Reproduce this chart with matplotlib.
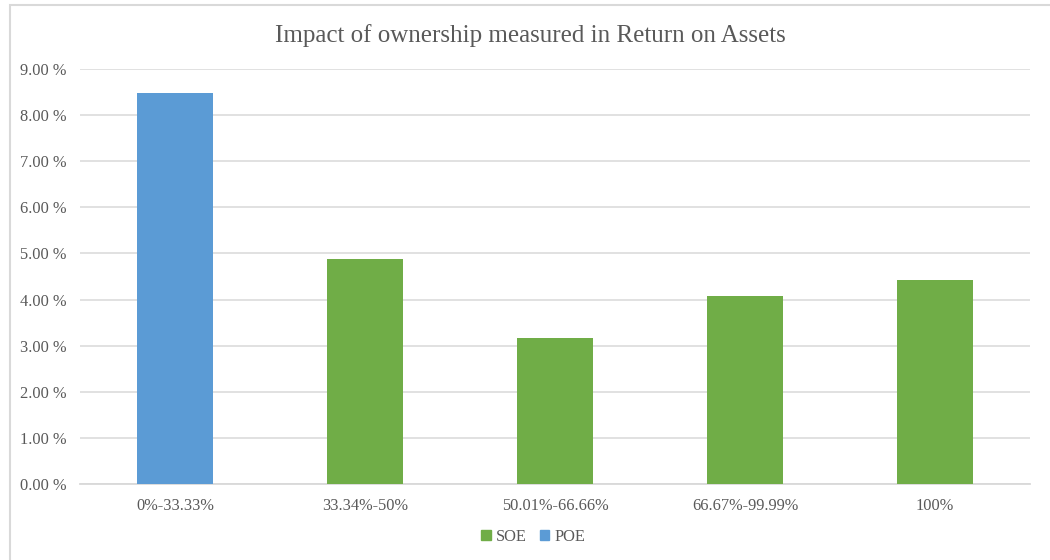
import matplotlib.pyplot as plt
from matplotlib.patches import Rectangle, Patch

categories = ['0%-33.33%', '33.34%-50%', '50.01%-66.66%', '66.67%-99.99%', '100%']
roa = [8.47, 4.88, 3.17, 4.08, 4.43]
owner = ['POE', 'SOE', 'SOE', 'SOE', 'SOE']

colors = {'SOE': '#70AD47', 'POE': '#5B9BD5'}
text_color = '#595959'
grid_color = '#d9d9d9'

plt.rcParams['font.family'] = ['Liberation Serif', 'DejaVu Serif']

fig = plt.figure(figsize=(10.5, 5.6), dpi=100)
ax = fig.add_axes([80 / 1050, 1 - 484 / 560, 950 / 1050, 415 / 560])

x = range(len(categories))
ax.bar(x, roa, width=0.4, color=[colors[o] for o in owner], zorder=3)

ax.set_xlim(-0.5, len(categories) - 0.5)
ax.set_ylim(0, 9)
ax.set_yticks(range(0, 10))
ax.set_yticklabels(['{:.2f} %'.format(v) for v in range(0, 10)])
ax.set_xticks(list(x))
ax.set_xticklabels(categories)

ax.grid(axis='y', color=grid_color, linewidth=1.1, zorder=0)
for side in ['top', 'right', 'left']:
    ax.spines[side].set_visible(False)
ax.spines['bottom'].set_color(grid_color)
ax.spines['bottom'].set_linewidth(1.3)
ax.tick_params(axis='both', length=0, colors=text_color, labelsize=11.8)
ax.tick_params(axis='x', pad=10)
ax.tick_params(axis='y', pad=10)

fig.text(530 / 1050, 1 - 36 / 560, 'Impact of ownership measured in Return on Assets',
         ha='center', va='center', fontsize=18, color=text_color)

handles = [Patch(color=colors['SOE']), Patch(color=colors['POE'])]
fig.legend(handles, ['SOE', 'POE'], loc='center', bbox_to_anchor=(533 / 1050, 1 - 537 / 560),
           ncol=2, frameon=False, fontsize=11.8, handlelength=0.6, handleheight=0.6,
           handletextpad=0.3, columnspacing=0.8, labelcolor=text_color)

fig.patches.append(Rectangle((10 / 1050, -0.05), 1.1, 1.05 - 5 / 560, transform=fig.transFigure,
                             fill=False, edgecolor='#d9d9d9', linewidth=1.5))

fig.savefig('out.png', dpi=100)
